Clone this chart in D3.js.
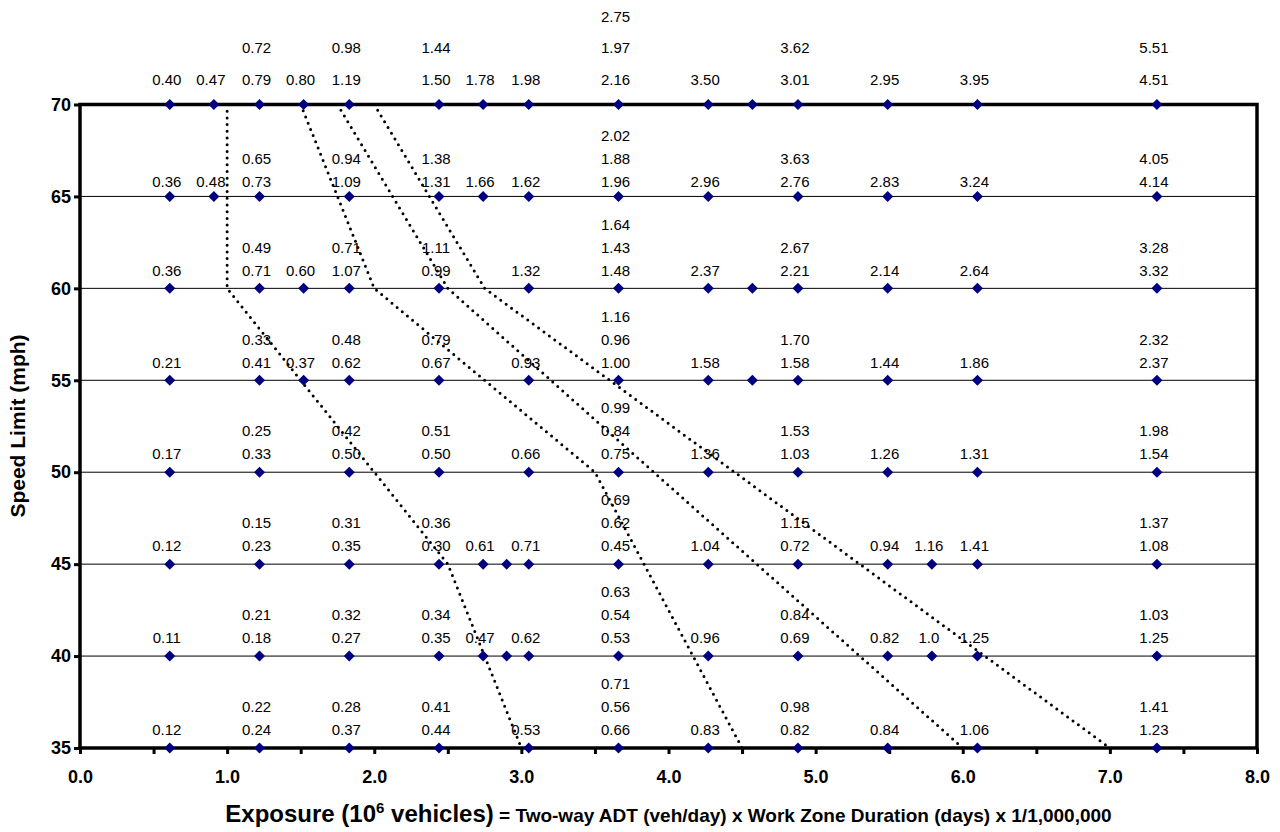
<!DOCTYPE html>
<html>
<head>
<meta charset="utf-8">
<script src="https://cdn.jsdelivr.net/npm/d3@7"></script>
<style>
  html, body { margin: 0; padding: 0; background: #fff; }
  svg { display: block; font-family: "Liberation Sans", Arial, sans-serif; }
</style>
</head>
<body>
<svg id="chart" width="1280" height="832"></svg>
<script>
// ---------------- DATA ----------------
const speedLimits = [70, 65, 60, 55, 50, 45, 40, 35];
const xTickValues = [0, 0.5, 1, 1.5, 2, 2.5, 3, 3.5, 4, 4.5, 5, 5.5, 6, 6.5, 7, 7.5, 8];

const exposure70 = [0.61, 0.91, 1.22, 1.52, 1.83, 2.44, 2.74, 3.05, 3.66, 4.27, 4.57, 4.88, 5.49, 6.10, 7.32];
const labels70 = [["0.40"], ["0.47"], ["0.72", "0.79"], ["0.80"], ["0.98", "1.19"], ["1.44", "1.50"], ["1.78"], ["1.98"],
  ["2.75", "1.97", "2.16"], ["3.50"], [], ["3.62", "3.01"], ["2.95"], ["3.95"], ["5.51", "4.51"]];

const exposure65 = [0.61, 0.91, 1.22, 1.83, 2.44, 2.74, 3.05, 3.66, 4.27, 4.88, 5.49, 6.10, 7.32];
const labels65 = [["0.36"], ["0.48"], ["0.65", "0.73"], ["0.94", "1.09"], ["1.38", "1.31"], ["1.66"], ["1.62"],
  ["2.02", "1.88", "1.96"], ["2.96"], ["3.63", "2.76"], ["2.83"], ["3.24"], ["4.05", "4.14"]];

const exposure60 = [0.61, 1.22, 1.52, 1.83, 2.44, 3.05, 3.66, 4.27, 4.57, 4.88, 5.49, 6.10, 7.32];
const labels60 = [["0.36"], ["0.49", "0.71"], ["0.60"], ["0.71", "1.07"], ["1.11", "0.99"], ["1.32"],
  ["1.64", "1.43", "1.48"], ["2.37"], [], ["2.67", "2.21"], ["2.14"], ["2.64"], ["3.28", "3.32"]];

const exposure55 = [0.61, 1.22, 1.52, 1.83, 2.44, 3.05, 3.66, 4.27, 4.57, 4.88, 5.49, 6.10, 7.32];
const labels55 = [["0.21"], ["0.33", "0.41"], ["0.37"], ["0.48", "0.62"], ["0.79", "0.67"], ["0.93"],
  ["1.16", "0.96", "1.00"], ["1.58"], [], ["1.70", "1.58"], ["1.44"], ["1.86"], ["2.32", "2.37"]];

const exposure50 = [0.61, 1.22, 1.83, 2.44, 3.05, 3.66, 4.27, 4.88, 5.49, 6.10, 7.32];
const labels50 = [["0.17"], ["0.25", "0.33"], ["0.42", "0.50"], ["0.51", "0.50"], ["0.66"],
  ["0.99", "0.84", "0.75"], ["1.36"], ["1.53", "1.03"], ["1.26"], ["1.31"], ["1.98", "1.54"]];

const exposure45 = [0.61, 1.22, 1.83, 2.44, 2.74, 2.90, 3.05, 3.66, 4.27, 4.88, 5.49, 5.79, 6.10, 7.32];
const labels45 = [["0.12"], ["0.15", "0.23"], ["0.31", "0.35"], ["0.36", "0.30"], ["0.61"], [], ["0.71"],
  ["0.69", "0.62", "0.45"], ["1.04"], ["1.15", "0.72"], ["0.94"], ["1.16"], ["1.41"], ["1.37", "1.08"]];

const exposure40 = [0.61, 1.22, 1.83, 2.44, 2.74, 2.90, 3.05, 3.66, 4.27, 4.88, 5.49, 5.79, 6.10, 7.32];
const labels40 = [["0.11"], ["0.21", "0.18"], ["0.32", "0.27"], ["0.34", "0.35"], ["0.47"], [], ["0.62"],
  ["0.63", "0.54", "0.53"], ["0.96"], ["0.84", "0.69"], ["0.82"], ["1.0"], ["1.25"], ["1.03", "1.25"]];

const exposure35 = [0.61, 1.22, 1.83, 2.44, 3.05, 3.66, 4.27, 4.88, 5.49, 6.10, 7.32];
const labels35 = [["0.12"], ["0.22", "0.24"], ["0.28", "0.37"], ["0.41", "0.44"], ["0.53"],
  ["0.71", "0.56", "0.66"], ["0.83"], ["0.98", "0.82"], ["0.84"], ["1.06"], ["1.41", "1.23"]];

// Dotted boundary lines: [exposure, speed limit]
const boundary1 = [[1.0, 70], [1.0, 60], [2.5, 45], [3.0, 35]];
const boundary2 = [[1.5, 70], [2.0, 60], [3.5, 50], [4.5, 35]];
const boundary3 = [[1.75, 70], [2.5, 60], [6.0, 35]];
const boundary4 = [[2.0, 70], [2.75, 60], [7.0, 35]];

// ---------------- BUILD ----------------
(function () {
const exposureBySpeed = {70: exposure70, 65: exposure65, 60: exposure60, 55: exposure55, 50: exposure50, 45: exposure45, 40: exposure40, 35: exposure35};
const labelsBySpeed = {70: labels70, 65: labels65, 60: labels60, 55: labels55, 50: labels50, 45: labels45, 40: labels40, 35: labels35};
const points = [];
speedLimits.forEach(s => {
  exposureBySpeed[s].forEach((e, i) => points.push({speed: s, exposure: e, labels: labelsBySpeed[s][i]}));
});
const boundaries = [boundary1, boundary2, boundary3, boundary4];

const svg = d3.select("#chart");
const pLeft = 80, pRight = 1257, pTop = 104.5, pBottom = 748;
const x = d3.scaleLinear().domain([0, 8]).range([pLeft, pRight]);
const y = d3.scaleLinear().domain([35, 70]).range([pBottom, pTop]);

// gridlines
svg.append("g").selectAll("line").data(speedLimits).join("line")
  .attr("x1", pLeft).attr("x2", pRight)
  .attr("y1", d => y(d)).attr("y2", d => y(d))
  .attr("stroke", "#000").attr("stroke-width", 1);

// labels (drawn under the dotted lines)
const labelG = svg.append("g").attr("font-size", "15px").attr("fill", "#000").attr("text-anchor", "middle");
points.forEach(p => {
  const n = p.labels.length;
  const off = p.speed === 70 ? 25 : (p.speed === 65 ? 15 : 18);
  const gap = p.speed === 70 ? 31.5 : 23;
  p.labels.forEach((t, i) => {
    const k = n - 1 - i; // 0 = closest to the point
    labelG.append("text")
      .attr("x", x(p.exposure) - 3)
      .attr("y", y(p.speed) - off - k * gap)
      .attr("dy", "0.35em")
      .text(t);
  });
});

// axes
const xAxis = d3.axisBottom(x).tickValues(xTickValues)
  .tickFormat(d => Number.isInteger(d) ? d.toFixed(1) : "").tickSize(6).tickPadding(16);
const gx = svg.append("g").attr("transform", `translate(0,${pBottom})`).call(xAxis);
gx.select(".domain").remove();
gx.selectAll(".tick line").attr("stroke", "#000").attr("stroke-width", 3);
gx.selectAll(".tick text").attr("font-size", "18px").attr("font-weight", "bold").attr("fill", "#000")
  .attr("font-family", "Liberation Sans, Arial, sans-serif");

const yAxis = d3.axisLeft(y).tickValues(speedLimits).tickSize(6).tickPadding(3);
const gy = svg.append("g").attr("transform", `translate(${pLeft},0)`).call(yAxis);
gy.select(".domain").remove();
gy.selectAll(".tick line").attr("stroke", "#000").attr("stroke-width", 3);
gy.selectAll(".tick text").attr("font-size", "18px").attr("font-weight", "bold").attr("fill", "#000")
  .attr("font-family", "Liberation Sans, Arial, sans-serif");

// plot border
svg.append("rect").attr("x", pLeft).attr("y", pTop).attr("width", pRight - pLeft).attr("height", pBottom - pTop)
  .attr("fill", "none").attr("stroke", "#000").attr("stroke-width", 3.5);

// dotted boundary lines
const line = d3.line().x(d => x(d[0])).y(d => y(d[1]));
svg.append("g").selectAll("path").data(boundaries).join("path")
  .attr("d", line).attr("fill", "none").attr("stroke", "#000")
  .attr("stroke-width", 3).attr("stroke-linecap", "round").attr("stroke-dasharray", "0 6.7");

// markers
const r = 5.5;
svg.append("g").selectAll("path").data(points).join("path")
  .attr("transform", d => `translate(${x(d.exposure)},${y(d.speed)})`)
  .attr("d", `M0,${-r}L${r},0L0,${r}L${-r},0Z`)
  .attr("fill", "#000080");

// axis titles
svg.append("text").attr("transform", `translate(25,426) rotate(-90)`)
  .attr("text-anchor", "middle").attr("font-size", "21px").attr("font-weight", "bold").text("Speed Limit (mph)");

const xt = svg.append("text").attr("x", (pLeft + pRight) / 2).attr("y", 822).attr("text-anchor", "middle").attr("font-weight", "bold");
xt.append("tspan").attr("font-size", "24px").text("Exposure (10");
xt.append("tspan").attr("font-size", "15px").attr("dy", "-9").text("6");
xt.append("tspan").attr("font-size", "24px").attr("dy", "9").text(" vehicles)");
xt.append("tspan").attr("font-size", "19px").text("  = Two-way ADT (veh/day) x Work Zone Duration (days) x 1/1,000,000");
})();
</script>
</body>
</html>
